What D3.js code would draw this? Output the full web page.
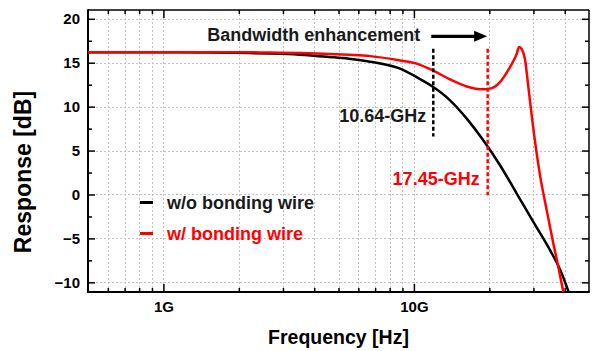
<!DOCTYPE html>
<html><head><meta charset="utf-8">
<script src="https://cdn.jsdelivr.net/npm/d3@7"></script>
<style>
html,body{margin:0;padding:0;background:#fff;}
svg{display:block;font-family:"Liberation Sans",Arial,Helvetica,sans-serif;font-weight:bold;}
</style></head>
<body><svg id="c" width="592" height="351"></svg>
<script>
// ---- data (frequency in GHz, response in dB) ----
const blackFreq = [0.5, 1, 1.5, 2, 2.66, 3.5, 4.62, 5.5, 6.68, 8.8, 10.26, 11.95, 13.94, 16.25, 18.92, 22.07, 25.73, 29.97, 34.94, 38.31, 41.34, 42.5];
const blackDb   = [16.2, 16.2, 16.17, 16.12, 16.05, 15.92, 15.65, 15.45, 15.12, 14.32, 13.36, 12.23, 10.72, 8.64, 6.17, 3.33, 0.11, -3.11, -6.33, -8.55, -11.0, -12.0];
const redFreq = [0.5, 1, 2, 2.66, 3.5, 4.62, 5.5, 6.68, 8.8, 10.26, 11.95, 13.94, 16.25, 18.92, 20.13, 22.07, 24.18, 25.73, 26.28, 27.01, 27.76, 28.54, 29.88, 31.87, 33.89, 36.02, 37.71, 39.49, 40.2];
const redDb   = [16.2, 16.2, 16.2, 16.15, 16.1, 16.0, 15.9, 15.75, 15.26, 14.9, 14.1, 13.1, 12.3, 11.97, 12.05, 12.8, 14.5, 16.0, 16.8, 16.5, 15.4, 12.6, 7.8, 2.2, -1.78, -5.57, -8.22, -11.07, -12.0];
const seriesNames = ["w/o bonding wire", "w/ bonding wire"];
const seriesColors = ["#000000", "#ff0000"];
const yMajorTicks = [-10, -5, 0, 5, 10, 15, 20];
const yMinorTicks = [-7.5, -2.5, 2.5, 7.5, 12.5, 17.5];
const xMajorTicks = [1, 10];
const xTickLabels = ["1G", "10G"];
const xMinorTicks = [0.6, 0.7, 0.8, 0.9, 2, 3, 4, 5, 6, 7, 8, 9, 20, 30, 40];
const bwFreq = [11.95, 19.7];            // dashed marker lines (GHz)
const bwLabels = ["10.64-GHz", "17.45-GHz"];
const bwTop = 16.6, bwBottom = [6.6, -0.1];
const arrowFreq = [11.73, 19.6], arrowDb = 18.0;

const svg = d3.select("#c");
const L = 88, R = 589, T = 10, B = 292;
const x = d3.scaleLog().domain([0.5, 50]).range([L, R]);
const y = d3.scaleLinear().domain([-11.1, 21]).range([B, T]);

svg.append("defs").append("clipPath").attr("id","clip")
  .append("rect").attr("x",L).attr("y",T).attr("width",R-L).attr("height",B-T);

// grid
const grid = svg.append("g").attr("stroke","#c4c4c4").attr("stroke-width",1).attr("stroke-dasharray","2,2");
grid.selectAll("line.v").data(xMajorTicks.concat(xMinorTicks)).join("line")
  .attr("x1",d=>Math.round(x(d))+0.5).attr("x2",d=>Math.round(x(d))+0.5).attr("y1",T).attr("y2",B);
grid.selectAll("line.h").data(yMajorTicks).join("line")
  .attr("y1",d=>Math.round(y(d))+0.5).attr("y2",d=>Math.round(y(d))+0.5).attr("x1",L).attr("x2",R);

// axes (ticks inward)
function styleAxis(g){ g.select(".domain").remove(); g.selectAll(".tick line").attr("stroke","#000").attr("stroke-width",1.5); }
function styleText(g){ g.selectAll("text").attr("font-size",15).attr("font-weight","bold").attr("fill","#000").attr("font-family","Liberation Sans, Arial, sans-serif"); }
const fmtX = d => xTickLabels[xMajorTicks.indexOf(d)];
svg.append("g").attr("transform",`translate(0,${B})`)
  .call(d3.axisBottom(x).tickValues(xMajorTicks).tickSize(-8).tickPadding(9).tickFormat(fmtX))
  .call(styleAxis).call(styleText);
svg.append("g").attr("transform",`translate(0,${B})`)
  .call(d3.axisBottom(x).tickValues(xMinorTicks).tickSize(-4).tickFormat("")).call(styleAxis);
svg.append("g").attr("transform",`translate(0,${T})`)
  .call(d3.axisTop(x).tickValues(xMajorTicks).tickSize(-8).tickFormat("")).call(styleAxis);
svg.append("g").attr("transform",`translate(0,${T})`)
  .call(d3.axisTop(x).tickValues(xMinorTicks).tickSize(-4).tickFormat("")).call(styleAxis);
svg.append("g").attr("transform",`translate(${L},0)`)
  .call(d3.axisLeft(y).tickValues(yMajorTicks).tickSize(-7).tickPadding(8).tickFormat(d3.format("d")))
  .call(styleAxis).call(styleText);
svg.append("g").attr("transform",`translate(${L},0)`)
  .call(d3.axisLeft(y).tickValues(yMinorTicks).tickSize(-4).tickFormat("")).call(styleAxis);
svg.append("g").attr("transform",`translate(${R},0)`)
  .call(d3.axisRight(y).tickValues(yMajorTicks).tickSize(-7).tickFormat("")).call(styleAxis);
svg.append("g").attr("transform",`translate(${R},0)`)
  .call(d3.axisRight(y).tickValues(yMinorTicks).tickSize(-4).tickFormat("")).call(styleAxis);

// frame
svg.append("line").attr("x1",L).attr("x2",R).attr("y1",T).attr("y2",T).attr("stroke","#000").attr("stroke-width",1.5);
svg.append("line").attr("x1",R).attr("x2",R).attr("y1",T).attr("y2",B).attr("stroke","#000").attr("stroke-width",1.5);
svg.append("line").attr("x1",L).attr("x2",L).attr("y1",T-0.75).attr("y2",B+1).attr("stroke","#000").attr("stroke-width",2);
svg.append("line").attr("x1",L-1).attr("x2",R+0.75).attr("y1",B).attr("y2",B).attr("stroke","#000").attr("stroke-width",2);

// curves
const line = d3.line().x(d=>x(d[0])).y(d=>y(d[1])).curve(d3.curveMonotoneX);
const curves = svg.append("g").attr("clip-path","url(#clip)");
curves.append("path").datum(blackFreq.map((f,i)=>[f,blackDb[i]]))
  .attr("d",line).attr("fill","none").attr("stroke",seriesColors[0]).attr("stroke-width",2.5);
curves.append("path").datum(redFreq.map((f,i)=>[f,redDb[i]]))
  .attr("d",line).attr("fill","none").attr("stroke",seriesColors[1]).attr("stroke-width",2.5).attr("stroke-linejoin","round");

// dashed markers
bwFreq.forEach((f,i)=>{
  svg.append("line").attr("x1",x(f)).attr("x2",x(f)).attr("y1",y(bwTop)).attr("y2",y(bwBottom[i]))
    .attr("stroke",seriesColors[i]).attr("stroke-width",2.5).attr("stroke-dasharray","4,2.5");
});
svg.append("text").attr("x",x(bwFreq[0])-7).attr("y",121.5).attr("text-anchor","end")
  .attr("font-size",18).attr("fill","#1a1a1a").text(bwLabels[0]);
svg.append("text").attr("x",x(bwFreq[1])-8).attr("y",185).attr("text-anchor","end")
  .attr("font-size",18).attr("fill",seriesColors[1]).text(bwLabels[1]);

// arrow
const ay = y(arrowDb);
svg.append("line").attr("x1",x(arrowFreq[0])).attr("x2",x(arrowFreq[1])-10).attr("y1",ay).attr("y2",ay)
  .attr("stroke","#000").attr("stroke-width",3.2);
svg.append("path").attr("d",`M${x(arrowFreq[1])},${ay} L${x(arrowFreq[1])-13},${ay-5.5} L${x(arrowFreq[1])-13},${ay+5.5} Z`).attr("fill","#000");
svg.append("text").attr("x",x(arrowFreq[0])-11).attr("y",40.7).attr("text-anchor","end")
  .attr("font-size",18).attr("fill","#1a1a1a").text("Bandwidth enhancement");

// legend
const legY = [202.5, 233.5];
seriesNames.forEach((n,i)=>{
  svg.append("line").attr("x1",140).attr("x2",153).attr("y1",legY[i]).attr("y2",legY[i])
    .attr("stroke",seriesColors[i]).attr("stroke-width",3);
  svg.append("text").attr("x",167).attr("y",legY[i]+6).attr("font-size",18)
    .attr("fill",i===0?"#1a1a1a":seriesColors[i]).text(n);
});

// axis titles
svg.append("text").attr("x",(L+R)/2).attr("y",344).attr("text-anchor","middle")
  .attr("font-size",19.5).attr("fill","#000").text("Frequency [Hz]");
svg.append("text").attr("transform","translate(31,172) rotate(-90)").attr("text-anchor","middle")
  .attr("font-size",23).attr("fill","#000").text("Response [dB]");
</script></body></html>
